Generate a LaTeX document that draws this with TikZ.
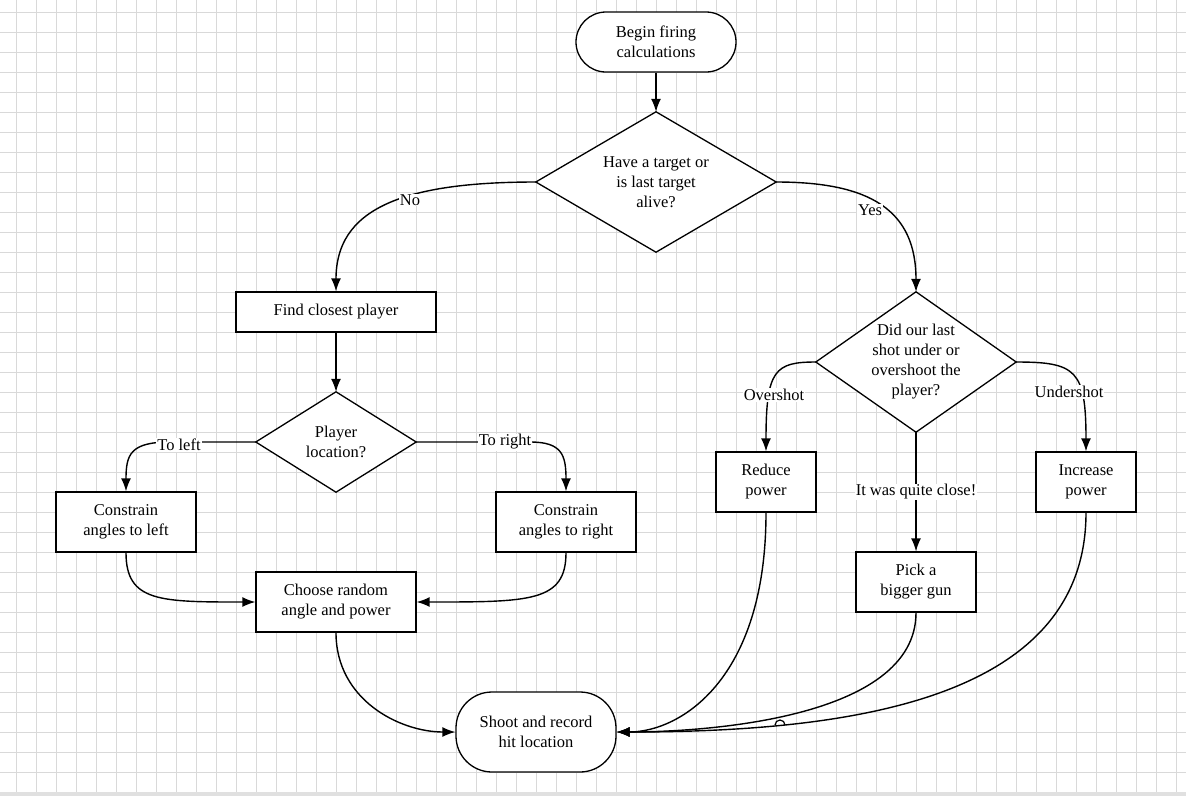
\documentclass[tikz,border=0pt]{standalone}
\usepackage{fontspec}
\setmainfont{Liberation Serif}
\usetikzlibrary{shapes.geometric,arrows.meta}
\tikzset{
 box/.style={draw,line width=1.3pt,fill=white,align=center,minimum width=#1,inner sep=0pt},
 term/.style={draw,line width=1.3pt,fill=white,align=center,inner sep=0pt},
 dia/.style={align=center,inner sep=0pt},
 diaborder/.style={draw,line width=1.3pt,fill=white},
 arr/.style={line width=1.4pt,-{Latex[length=13pt,width=10pt]}},
 lab/.style={fill=white,inner sep=1pt},
}
\begin{document}
\begin{tikzpicture}[x=1pt,y=-1pt,font=\fontsize{16.5}{20}\selectfont]
\useasboundingbox (0,0) rectangle (1186,796);
\foreach \x in {16,36,...,1186} \draw[black!15,line width=1pt] (\x,0) -- (\x,792);
\foreach \y in {12,32,...,792} \draw[black!15,line width=1pt] (0,\y) -- (1186,\y);
\fill[black!12] (0,792) rectangle (1186,796);
\node[term,minimum width=160pt,minimum height=60pt,rounded corners=30pt] (begin) at (656,42) {Begin firing\\calculations};
\node[dia,minimum width=240pt,minimum height=140pt] (d1) at (656,182) {};
\node[box=200pt,minimum height=40pt] (find) at (336,312) {Find closest player};
\node[dia,minimum width=160pt,minimum height=100pt] (d2) at (336,442) {};
\node[box=140pt,minimum height=60pt] (cl) at (126,522) {Constrain\\angles to left};
\node[box=140pt,minimum height=60pt] (cr) at (566,522) {Constrain\\angles to right};
\node[box=160pt,minimum height=60pt] (rand) at (336,602) {Choose random\\angle and power};
\node[term,minimum width=160pt,minimum height=80pt,rounded corners=36pt] (shoot) at (536,732) {Shoot and record\\hit location};
\node[dia,minimum width=200pt,minimum height=140pt] (d3) at (916,362) {};
\foreach \d/\t in {d1/{Have a target or\\is last target\\alive?},d2/{Player\\location?},d3/{Did our last\\shot under or\\overshoot the\\player?}}{
 \draw[diaborder] (\d.north) -- (\d.east) -- (\d.south) -- (\d.west) -- cycle;
 \node[align=center,inner sep=0pt] at (\d.center) {\t};
}
\node[box=100pt,minimum height=60pt] (red) at (766,482) {Reduce\\power};
\node[box=100pt,minimum height=60pt] (inc) at (1086,482) {Increase\\power};
\node[box=120pt,minimum height=60pt] (gun) at (916,582) {Pick a\\bigger gun};

\draw[arr] (begin) -- (d1.north);
\draw[arr] (d1.west) .. controls (400,182) and (336,210) .. (find.north);
\node[lab] at (410,200) {No};
\draw[arr] (d1.east) .. controls (870,182) and (916,210) .. (d3.north);
\node[lab] at (870,210) {Yes};
\draw[arr] (find) -- (d2.north);
\draw[arr] (d2.west) -- (170,442) .. controls (130,442) and (126,455) .. (cl.north);
\node[lab] at (179,445) {To left};
\draw[arr] (d2.east) -- (530,442) .. controls (562,442) and (566,455) .. (cr.north);
\node[lab] at (505,442) {To right};
\draw[arr] (cl.south) .. controls (126,602) and (160,602) .. (rand.west);
\draw[arr] (cr.south) .. controls (566,602) and (530,602) .. (rand.east);
\draw[arr] (rand.south) .. controls (336,700) and (400,732) .. (shoot.west);
\draw[arr] (d3.west) .. controls (775,362) and (766,370) .. (red.north);
\node[lab] at (774,395) {Overshot};
\draw[arr] (d3.east) .. controls (1076,362) and (1086,370) .. (inc.north);
\node[lab] at (1069,392) {Undershot};
\draw[arr] (d3.south) -- (gun.north);
\node[lab] at (916,492) {It was quite close!};
\draw[arr] (red.south) .. controls (766,680) and (680,732) .. (shoot.east);
\draw[arr] (gun.south) .. controls (916,720) and (700,732) .. (shoot.east);
\draw[arr] (inc.south) .. controls (1086,700) and (850,732) .. (shoot.east);
\draw[line width=1.2pt] (775,725) arc[start angle=180,end angle=360,radius=5];
\end{tikzpicture}
\end{document}
